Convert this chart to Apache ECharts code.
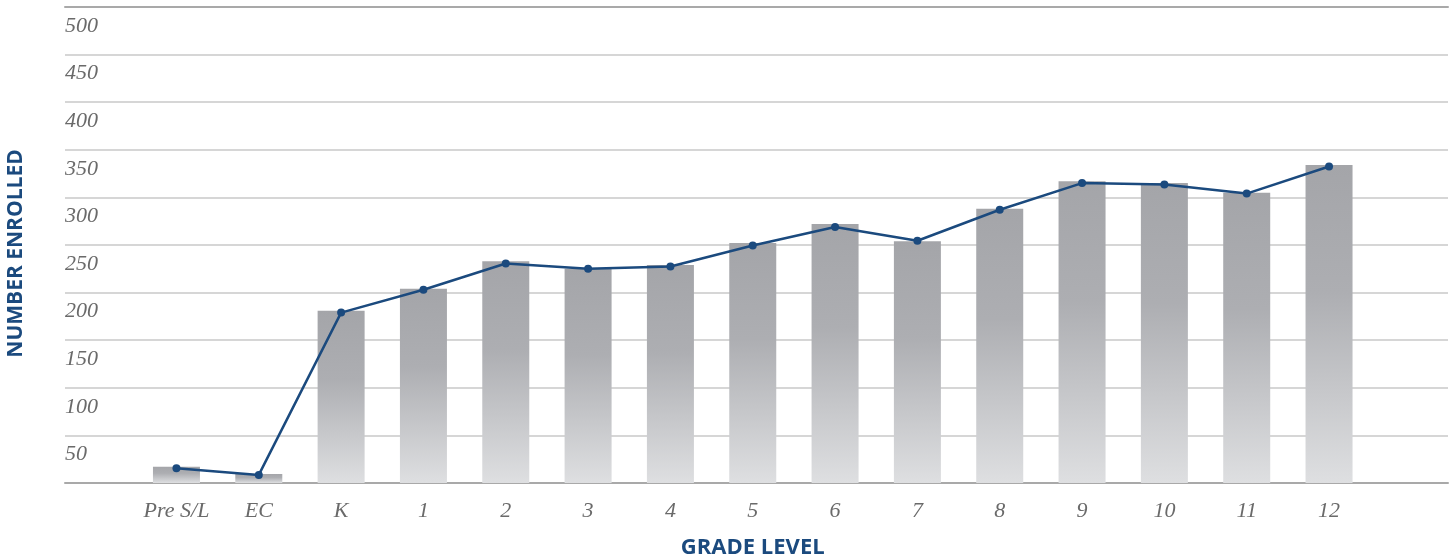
<!DOCTYPE html>
<html>
<head>
<meta charset="utf-8">
<script src="https://cdn.jsdelivr.net/npm/echarts@6/dist/echarts.min.js"></script>
<style>
html,body{margin:0;padding:0;background:#fff;}
#chart{width:1453px;height:559px;}
</style>
</head>
<body>
<div id="chart"></div>
<script>
const categories = ['Pre S/L','EC','K','1','2','3','4','5','6','7','8','9','10','11','12'];
const barValues  = [17, 9.5, 181, 204, 233, 225, 229, 252, 272, 254, 288, 317, 315, 305, 334];
const lineValues = [15.5, 8.5, 179, 203, 230.5, 225, 227.5, 249.5, 269, 254.5, 287, 315, 313.5, 304, 332.5];
const yTicks = [0, 50, 100, 150, 200, 250, 300, 350, 400, 450, 500];

const chart = echarts.init(document.getElementById('chart'), null, {renderer:'canvas'});
const labelFont = {fontFamily:'Liberation Serif', fontStyle:'italic', fontSize:22, color:'#6a6a6a'};
const blue = '#1b4a7e';

chart.setOption({
  animation:false,
  backgroundColor:'#fff',
  grid:[
    {left:65, right:5, top:7, bottom:76, containLabel:false, outerBoundsMode:'none'},
    {left:135.3, right:82.8, top:7, bottom:76, containLabel:false, outerBoundsMode:'none'}
  ],
  xAxis:[
    {gridIndex:0, type:'category', data:categories, boundaryGap:true,
     axisLine:{show:true, lineStyle:{color:'#a9a9a9', width:2}},
     axisTick:{show:false}, axisLabel:{show:false}, splitLine:{show:false}},
    {gridIndex:0, type:'category', position:'top', data:categories,
     axisLine:{show:true, lineStyle:{color:'#a9a9a9', width:2}},
     axisTick:{show:false}, axisLabel:{show:false}, splitLine:{show:false}},
    {gridIndex:1, type:'category', data:categories, boundaryGap:true,
     axisLine:{show:false}, axisTick:{show:false},
     axisLabel:Object.assign({margin:17, interval:0}, labelFont),
     name:'GRADE LEVEL', nameLocation:'middle', nameGap:54,
     nameTextStyle:{fontFamily:'Open Sans', fontWeight:'bold', fontSize:22, color:blue}}
  ],
  yAxis:[
    {gridIndex:0, type:'value', min:yTicks[0], max:yTicks[yTicks.length-1], interval:50,
     axisLine:{show:false}, axisTick:{show:false},
     axisLabel:Object.assign({inside:true, margin:0, showMinLabel:false, verticalAlign:'top', lineHeight:22, padding:[8,0,0,0]}, labelFont),
     splitLine:{show:true, lineStyle:{color:'#c8c8c8', width:1.5}}},
    {gridIndex:1, type:'value', min:yTicks[0], max:yTicks[yTicks.length-1], interval:50, show:false,
     splitLine:{show:false}}
  ],
  graphic:[
    {type:'text', x:16, y:253.5, rotation:Math.PI/2,
     style:{text:'NUMBER ENROLLED', align:'center', verticalAlign:'middle',
            font:'bold 21px "Open Sans"', fill:blue}}
  ],
  series:[
    {type:'bar', xAxisIndex:2, yAxisIndex:1, data:barValues, barWidth:47, z:2,
     itemStyle:{color:{type:'linear', x:0, y:0, x2:0, y2:1,
       colorStops:[{offset:0, color:'#a4a5a9'},{offset:0.4, color:'#adaeb2'},{offset:1, color:'#dedfe1'}]}}},
    {type:'line', xAxisIndex:2, yAxisIndex:1, data:lineValues, z:5,
     symbol:'circle', symbolSize:8, showSymbol:true,
     lineStyle:{color:blue, width:2.5}, itemStyle:{color:blue}}
  ]
});
</script>
</body>
</html>
